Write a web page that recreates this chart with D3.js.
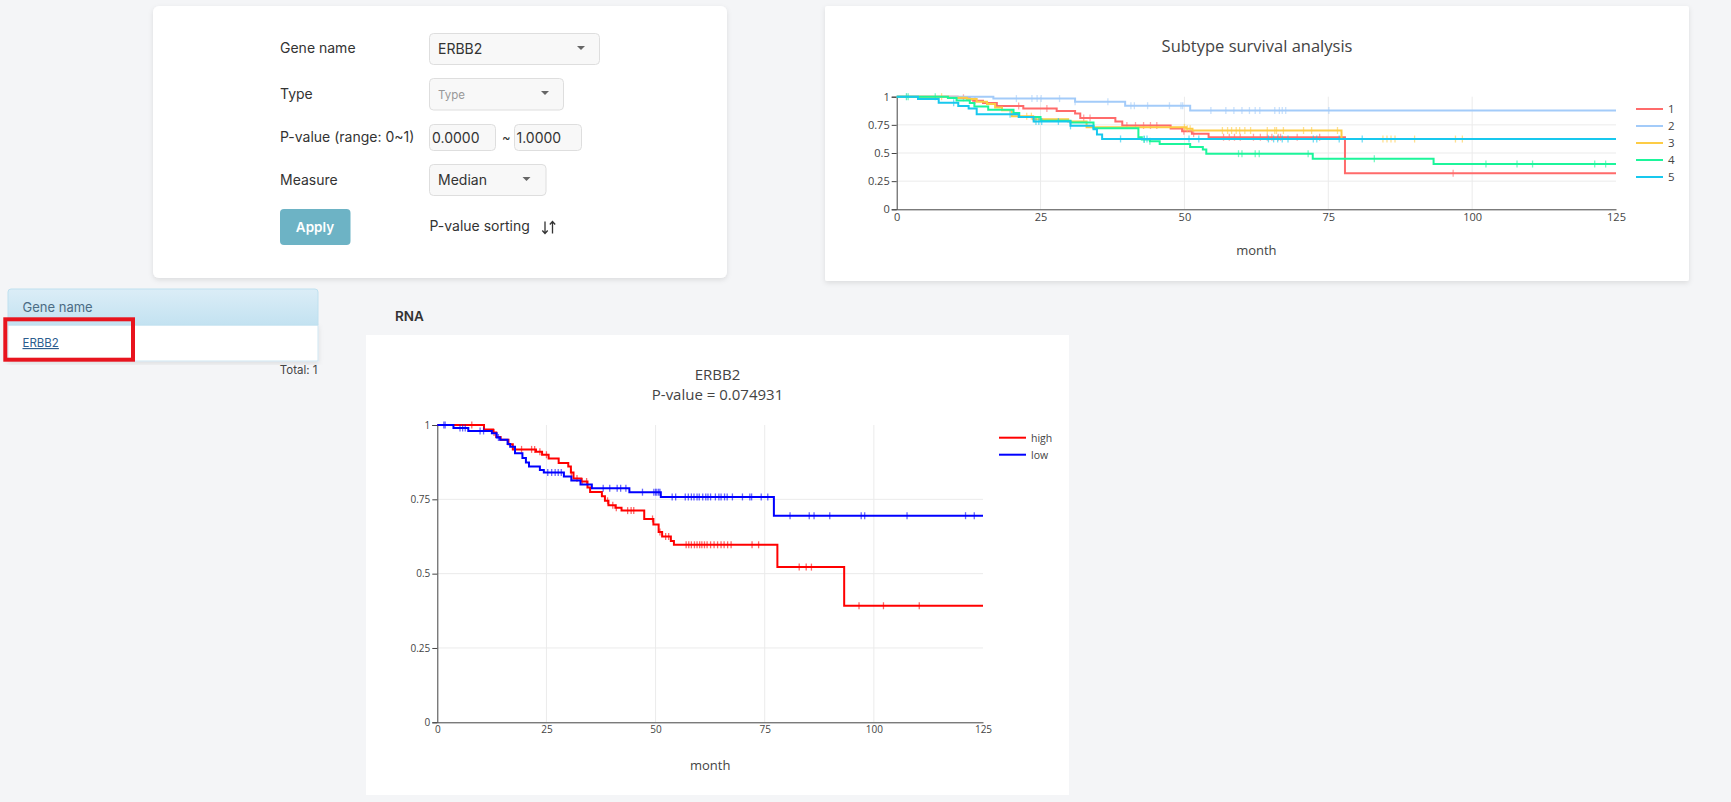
<!DOCTYPE html>
<html><head><meta charset="utf-8">
<script src="https://cdn.jsdelivr.net/npm/d3@7"></script>
<style>
html,body{margin:0;padding:0;background:#f4f5f7;overflow:hidden;}
svg{display:block;}
</style></head><body>
<svg id="page" width="1731" height="802"></svg>
<script>
// ---------------- DATA ----------------
const axisMonths = [0, 25, 50, 75, 100, 125];
const axisSurv = [0, 0.25, 0.5, 0.75, 1];

// Subtype survival analysis (top chart)
const subtypeNames = ["1", "2", "3", "4", "5"];
const subtypeColors = ["#ff6b6b", "#a3cbf9", "#fdcc45", "#1cf59b", "#18c8ee"];
const sub1Steps = [[0,1],[10.6,0.99],[12.7,0.975],[13.3,0.965],[15,0.945],[17.4,0.917],[22,0.896],[27.8,0.872],[31,0.85],[31.9,0.81],[38,0.78],[39.2,0.744],[47.6,0.717],[49.6,0.693],[51.3,0.672],[54.2,0.64],[77.9,0.32]];
const sub1Censor = [11.6,13.6,21.2,26.1,32.5,33.6,40.0,41.5,42.9,44.1,45.2,49.9,51.6,56.8,57.8,58.7,59.7,62.0,63.2,64.4,65.2,66.3,66.7,69.6,73.5,96.7];
const sub2Steps = [[0,1],[16.8,0.983],[31,0.955],[39.7,0.92],[51,0.877]];
const sub2Censor = [1.7,20.8,23.5,24.4,25.1,28.3,31.0,36.7,40.7,41.3,43.6,47.4,49.4,49.7,54.6,57.2,58.6,60.0,61.3,62.3,63.1,65.7,66.5,67.0,67.6,75.1];
const sub3Steps = [[0,1],[9,0.99],[12.2,0.98],[13.9,0.955],[15.7,0.935],[17.1,0.905],[18.3,0.88],[20,0.827],[23.7,0.8],[29.8,0.78],[33,0.728],[50.3,0.716],[51.4,0.70],[77.3,0.624]];
const sub3Censor = [7.8,22.6,23.4,24.0,50.0,50.5,51.0,56.6,57.5,58.2,59.0,59.6,60.5,61.5,64.4,65.7,66.0,67.2,70.7,72.1,76.6,84.5,85.2,85.9,86.6,90.0,97.1,98.3];
const sub4Steps = [[0,1],[8.9,0.988],[10.4,0.967],[12.7,0.944],[13.5,0.914],[15.9,0.885],[20.3,0.855],[21.3,0.82],[25,0.786],[30.2,0.77],[34.2,0.72],[42,0.64],[42.6,0.62],[44,0.604],[45.7,0.58],[51,0.553],[53.2,0.53],[53.8,0.494],[72.3,0.45],[93.3,0.402]];
const sub4Censor = [1.7,2.0,6.7,43.0,44.0,59.4,60.0,62.3,63.0,71.5,83.0,102.4,107.8,110.5,121.3,123.2];
const sub5Steps = [[0,1],[3.7,0.98],[7.3,0.946],[10.7,0.917],[12.5,0.896],[13.9,0.845],[21.2,0.82],[23.8,0.78],[30.2,0.741],[34.2,0.71],[34.8,0.664],[35.7,0.625]];
const sub5Censor = [9.9,19.7,24.2,24.7,25.2,28.1,30.2,38.9,43.0,43.5,50.8,52.5,64.6,65.5,66.2,67.0,68.0,72.4,73.0,76.9,80.9];

// ERBB2 RNA (bottom chart)
const geneNames = ["high", "low"];
const geneColors = ["#ff0000", "#0000ff"];
const highSteps = [[0,1],[10.7,0.985],[12.8,0.975],[13.5,0.96],[14.5,0.95],[16.3,0.935],[17.3,0.918],[22.6,0.91],[24,0.9],[25.5,0.887],[27.8,0.872],[30.0,0.86],[30.6,0.84],[31.2,0.82],[33.0,0.81],[34.4,0.79],[35.0,0.775],[37.7,0.76],[38.4,0.745],[39.2,0.73],[40.8,0.722],[42.2,0.712],[47.4,0.684],[49.5,0.665],[50.7,0.64],[51.5,0.625],[53.5,0.61],[54.2,0.597],[77.9,0.522],[93.2,0.392]];
const highCensor = [7.9,13.0,19.3,21.6,22.3,23.5,25.0,30.7,32.0,33.2,34.2,39.0,40.2,41.0,43.6,44.4,45.0,49.3,51.0,52.3,53.0,57.0,57.6,58.2,58.9,59.5,60.1,60.6,61.2,61.8,62.6,63.4,64.2,65.0,65.7,66.5,67.3,72.1,73.6,82.9,84.5,85.7,96.6,102.2,110.4];
const lowSteps = [[0,1],[3.7,0.99],[7.1,0.98],[12.5,0.972],[13.6,0.958],[14.4,0.95],[16.1,0.936],[16.7,0.927],[17.8,0.905],[19.5,0.889],[20.3,0.874],[21,0.86],[23.5,0.849],[24.4,0.84],[29,0.827],[30.7,0.813],[32.8,0.8],[35.4,0.787],[44,0.774],[51.2,0.758],[77.1,0.695]];
const lowCensor = [1.5,1.8,5.2,5.8,6.4,9.8,10.6,14.0,25.3,26.2,27.0,27.7,28.4,38.0,39.5,41.2,42.0,43.2,47.0,49.6,50.0,50.3,50.7,51.0,53.8,54.6,56.8,57.5,58.2,58.8,59.5,60.0,60.8,61.5,62.0,62.6,63.7,64.5,65.0,65.8,66.4,67.6,69.9,71.6,72.0,74.2,75.7,80.8,85.2,86.3,89.9,97.1,97.9,107.6,121.0,123.0];

const pValueText = "P-value = 0.074931";
const geneList = ["ERBB2"];

// ---------------- DRAW ----------------
const svg = d3.select("#page");
const defs = svg.append("defs");
const sh = defs.append("filter").attr("id","shadow").attr("x","-5%").attr("y","-5%").attr("width","110%").attr("height","115%");
sh.append("feDropShadow").attr("dx",0).attr("dy",2).attr("stdDeviation",2.5).attr("flood-color","#000").attr("flood-opacity",0.10);
const grad = defs.append("linearGradient").attr("id","hdr").attr("x1",0).attr("y1",0).attr("x2",0).attr("y2",1);
grad.append("stop").attr("offset","0%").attr("stop-color","#dbedf7");
grad.append("stop").attr("offset","100%").attr("stop-color","#c3e2f1");

const FORM_FONT = "Inter, 'Noto Sans', sans-serif";
const PLOT_FONT = "'Open Sans', 'Noto Sans', sans-serif";

// Cards
svg.append("rect").attr("x",153).attr("y",6).attr("width",574).attr("height",272).attr("rx",6).attr("fill","#fff").attr("filter","url(#shadow)");
svg.append("rect").attr("x",825).attr("y",6).attr("width",864).attr("height",275).attr("rx",2).attr("fill","#fff").attr("filter","url(#shadow)");
svg.append("rect").attr("x",366).attr("y",335).attr("width",703).attr("height",460).attr("fill","#fff");

// ---- Form ----
const form = svg.append("g").attr("font-family",FORM_FONT);
const labels = [["Gene name",53],["Type",99],["P-value (range: 0~1)",142],["Measure",185]];
form.selectAll("text.lbl").data(labels).join("text").attr("class","lbl")
  .attr("x",280).attr("y",d=>d[1]).attr("font-size",14).attr("fill","#333").text(d=>d[0]);

function selectBox(x,y,w,h,txt,color,fs,tx){
  form.append("rect").attr("x",x).attr("y",y).attr("width",w).attr("height",h).attr("rx",4)
    .attr("fill","#f8f8f8").attr("stroke","#dedede");
  form.append("text").attr("x",tx).attr("y",y+h/2+5).attr("font-size",fs).attr("fill",color).text(txt);
}
function caret(cx,cy){
  form.append("path").attr("d",`M${cx-4},${cy-2}L${cx+4},${cy-2}L${cx},${cy+2}Z`).attr("fill","#666");
}
selectBox(429.5,33.5,170,31,"ERBB2","#333",14,438); caret(581,48);
selectBox(429.5,78.5,134,31.5,"Type","#999",11.5,438); caret(545,93);
selectBox(429.5,124.5,66,26,"0.0000","#333",14,432);
form.append("text").attr("x",502).attr("y",142).attr("font-size",13).attr("fill","#333").text("~");
selectBox(514.5,124.5,67,26,"1.0000","#333",14,516.5);
selectBox(429.5,164.5,116.5,31,"Median","#333",14,438); caret(526.5,179);
form.append("rect").attr("x",280).attr("y",209).attr("width",70.5).attr("height",36).attr("rx",4).attr("fill","#6db3c5");
form.append("text").attr("x",315).attr("y",232).attr("text-anchor","middle").attr("font-size",13.5).attr("font-weight",600).attr("fill","#fff").text("Apply");
form.append("text").attr("x",429.5).attr("y",231).attr("font-size",14).attr("fill","#333").text("P-value sorting");
// sort icon (down arrow, up arrow)
const ic = form.append("g").attr("stroke","#333").attr("stroke-width",1.3).attr("fill","none");
ic.append("path").attr("d","M545,221.5V233.5M542.3,230.5L545,233.5L547.7,230.5");
ic.append("path").attr("d","M552.5,233.5V221.5M549.8,224.5L552.5,221.5L555.2,224.5");

// ---- Gene table ----
const tbl = svg.append("g").attr("font-family",FORM_FONT);
tbl.append("rect").attr("x",8).attr("y",325).attr("width",310).attr("height",36).attr("fill","#fff").attr("stroke","#cfe6f1").attr("filter","url(#shadow)");
tbl.append("path").attr("d","M8,325V292a3,3 0 0 1 3,-3H315a3,3 0 0 1 3,3V325Z").attr("fill","url(#hdr)").attr("stroke","#bfe0ef");
tbl.append("text").attr("x",22.5).attr("y",312).attr("font-size",13).attr("fill","#4b6c84").text("Gene name");
tbl.selectAll("text.gene").data(geneList).join("text").attr("class","gene")
  .attr("x",22.5).attr("y",(d,i)=>347+i*36).attr("font-size",11.5).attr("fill","#2c5d8f")
  .attr("text-decoration","underline").text(d=>d);
tbl.append("text").attr("x",317.5).attr("y",374).attr("text-anchor","end").attr("font-size",11.5).attr("fill","#444").text("Total: " + geneList.length);
tbl.append("rect").attr("x",5.3).attr("y",319.3).attr("width",127.7).attr("height",40.4).attr("fill","none").attr("stroke","#e8141e").attr("stroke-width",4);

svg.append("text").attr("x",395).attr("y",321).attr("font-family",FORM_FONT).attr("font-size",13.5).attr("font-weight",600).attr("fill","#333").text("RNA");

// ---- KM chart helper ----
function survAt(steps,t){ let s=steps[0][1]; for(const [m,v] of steps){ if(m<=t) s=v; else break; } return s; }

function drawKM(o){
  const g = svg.append("g").attr("font-family",PLOT_FONT);
  const x = d3.scaleLinear().domain([0,125]).range(o.xr);
  const y = d3.scaleLinear().domain([0,1]).range(o.yr);
  // grid
  g.selectAll("line.gx").data(axisMonths.filter(v=>v>0&&v<125)).join("line")
    .attr("x1",d=>x(d)).attr("x2",d=>x(d)).attr("y1",y(0)).attr("y2",y(1)).attr("stroke","#ebebeb").attr("stroke-width",1);
  g.selectAll("line.gy").data(axisSurv.filter(v=>v>0&&v<1)).join("line")
    .attr("y1",d=>y(d)).attr("y2",d=>y(d)).attr("x1",x(0)).attr("x2",x(125)).attr("stroke","#ebebeb").attr("stroke-width",1);
  // axes
  const xa = g.append("g").attr("transform",`translate(0,${y(0)})`)
    .call(d3.axisBottom(x).tickValues(axisMonths).tickSize(0).tickPadding(o.xpad).tickFormat(d=>String(d)));
  const ya = g.append("g").attr("transform",`translate(${x(0)},0)`)
    .call(d3.axisLeft(y).tickValues(axisSurv).tickSize(5).tickPadding(2).tickFormat(d=>String(d)));
  [xa,ya].forEach(a=>{
    a.select(".domain").attr("stroke","#444").attr("stroke-width",1);
    a.selectAll(".tick line").attr("stroke","#444");
    a.selectAll("text").attr("font-family",PLOT_FONT).attr("font-size",o.tickFs).attr("fill","#444");
  });
  // curves
  const line = d3.line().curve(d3.curveStepAfter).x(d=>x(d[0])).y(d=>y(d[1]));
  o.series.forEach((s,i)=>{
    const pts = s.steps.concat([[125, s.steps[s.steps.length-1][1]]]);
    g.append("path").datum(pts).attr("d",line).attr("fill","none").attr("stroke",s.color)
      .attr("stroke-width",o.lw).attr("stroke-opacity",o.lineOp);
    g.append("g").selectAll("line").data(s.censor).join("line")
      .attr("x1",d=>x(d)).attr("x2",d=>x(d))
      .attr("y1",d=>y(survAt(s.steps,d))-o.tick).attr("y2",d=>y(survAt(s.steps,d))+o.tick)
      .attr("stroke",s.color).attr("stroke-width",1.3).attr("stroke-opacity",0.6);
  });
  // legend
  o.series.forEach((s,i)=>{
    const ly = o.legY + i*o.legDy;
    g.append("line").attr("x1",o.legX).attr("x2",o.legX+27).attr("y1",ly).attr("y2",ly).attr("stroke",s.color).attr("stroke-width",2);
    g.append("text").attr("x",o.legX+32).attr("y",ly+4).attr("font-size",o.legFs).attr("fill","#444").text(s.name);
  });
  // titles
  o.titles.forEach(t=>g.append("text").attr("x",o.titleX).attr("y",t[1]).attr("text-anchor","middle")
    .attr("font-size",o.titleFs).attr("fill","#444").text(t[0]));
  g.append("text").attr("x",(o.xr[0]+o.xr[1])/2).attr("y",o.monthY).attr("text-anchor","middle")
    .attr("font-size",13).attr("fill","#444").text("month");
}

const subSteps = [sub1Steps,sub2Steps,sub3Steps,sub4Steps,sub5Steps];
const subCens = [sub1Censor,sub2Censor,sub3Censor,sub4Censor,sub5Censor];
drawKM({
  xr:[896.7,1616], yr:[209.3,96.7], xpad:4, tickFs:11, lw:2, lineOp:1, tick:3.5,
  series: subtypeNames.map((n,i)=>({name:n,color:subtypeColors[i],steps:subSteps[i],censor:subCens[i]})),
  legX:1636, legY:109, legDy:17, legFs:11.5,
  titles:[["Subtype survival analysis",52]], titleX:1257, titleFs:16.5, monthY:255
});
drawKM({
  xr:[437.3,983], yr:[722.3,425], xpad:4, tickFs:10, lw:2, lineOp:1, tick:3.5,
  series:[{name:geneNames[0],color:geneColors[0],steps:highSteps,censor:highCensor},
          {name:geneNames[1],color:geneColors[1],steps:lowSteps,censor:lowCensor}],
  legX:999, legY:437.7, legDy:17, legFs:10.5,
  titles:[[geneList[0],380],[pValueText,400]], titleX:717.5, titleFs:15, monthY:770
});
</script>
</body></html>
